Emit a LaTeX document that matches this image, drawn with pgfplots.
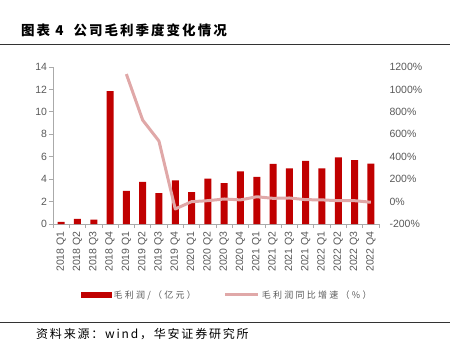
\documentclass[border=0pt]{standalone}
\usepackage{fontspec}
\setmainfont{Liberation Sans}
\newfontfamily\cjk{Noto Sans CJK SC}
\newfontfamily\cjktitle[LetterSpace=15]{Noto Sans CJK SC}
\newfontfamily\cjksrc[LetterSpace=15]{Noto Sans CJK SC}
\newfontfamily\cjkleg[LetterSpace=25]{Noto Sans CJK SC}
\usepackage{pgfplots}
\pgfplotsset{compat=1.18}
\definecolor{barred}{RGB}{192,0,0}
\definecolor{linepink}{RGB}{224,168,168}
\definecolor{tickgrey}{RGB}{89,89,89}
\definecolor{axgrey}{RGB}{170,170,170}
\begin{document}
\begin{tikzpicture}[x=1pt,y=1pt]
\path[use as bounding box] (0,0) rectangle (454,354);
\node[anchor=west, inner sep=0pt, font=\cjktitle\bfseries\fontsize{13.5}{15}\selectfont] at (21,324) {图表 4\hspace{10pt}公司毛利季度变化情况};
\draw[black!80, line width=1pt] (0,309) -- (450,309);
\draw[black!80, line width=1pt] (0,32) -- (450,32);
\node[anchor=west, inner sep=0pt, font=\cjksrc\fontsize{12}{14}\selectfont] at (36,20) {资料来源：wind，华安证券研究所};
\pgfplotsset{
  common/.style={
    scale only axis, width=326pt, height=157pt,
    at={(53pt,130pt)}, anchor=south west,
    xmin=-0.5, xmax=19.5,
    /pgf/number format/assume math mode=true,
    /pgf/number format/set thousands separator={},
    ticklabel style={font=\fontsize{10.5}{11}\selectfont, text=tickgrey},
  }
}
\begin{axis}[common,
  ymin=0, ymax=14, ytick={0,2,...,14},
  axis x line*=bottom, axis y line*=left,
  axis line style={axgrey, line width=0.8pt},
  tick align=outside, major tick length=4pt, minor tick length=4pt,
  major tick style={axgrey, line width=0.8pt},
  major x tick style={draw=none},
  minor x tick style={axgrey, line width=0.8pt},
  xtick={0,...,19},
  minor xtick={-0.5,0.5,...,19.5},
  xticklabels={2018 Q1,2018 Q2,2018 Q3,2018 Q4,2019 Q1,2019 Q2,2019 Q3,2019 Q4,2020 Q1,2020 Q2,2020 Q3,2020 Q4,2021 Q1,2021 Q2,2021 Q3,2021 Q4,2022 Q1,2022 Q2,2022 Q3,2022 Q4},
  xticklabel style={rotate=90, anchor=east},
  yticklabel style={xshift=1.5pt},
  ybar, bar width=7pt,
]
\addplot[fill=barred, draw=none] coordinates {
(0,0.2) (1,0.45) (2,0.4) (3,11.85) (4,2.95) (5,3.75) (6,2.75) (7,3.9)
(8,2.85) (9,4.05) (10,3.65) (11,4.7) (12,4.2) (13,5.36) (14,4.97) (15,5.62)
(16,4.97) (17,5.95) (18,5.69) (19,5.39)};
\end{axis}
\begin{axis}[common,
  ymin=-200, ymax=1200, ytick={-200,0,...,1200},
  axis x line=none, axis y line*=right,
  y axis line style={draw=none},
  major tick length=0pt,
  yticklabel={\pgfmathprintnumber{\tick}\%},
  yticklabel style={anchor=west, xshift=7pt},
  legend style={at={(0.535,-0.452)}, anchor=center, draw=none, fill=none,
    font=\cjkleg\fontsize{9}{10}\selectfont, text=tickgrey, legend columns=2,
    /tikz/every even column/.append style={column sep=26pt}},
]
\addlegendimage{legend image code/.code={\fill[barred] (0pt,-2.3pt) rectangle (30pt,2.3pt);}}
\addlegendentry{毛利润/（亿元）}
\addplot[linepink, line width=3pt, line join=round,
  legend image code/.code={\draw[linepink, line width=3pt] (0pt,0pt) -- (33pt,0pt);}] coordinates {
(4,1137) (5,727) (6,540) (7,-66) (8,-1) (9,8) (10,23) (11,15)
(12,43) (13,29) (14,32) (15,17) (16,15) (17,8) (18,8) (19,-6)};
\addlegendentry{毛利润同比增速（\%）}
\end{axis}
\end{tikzpicture}
\end{document}
